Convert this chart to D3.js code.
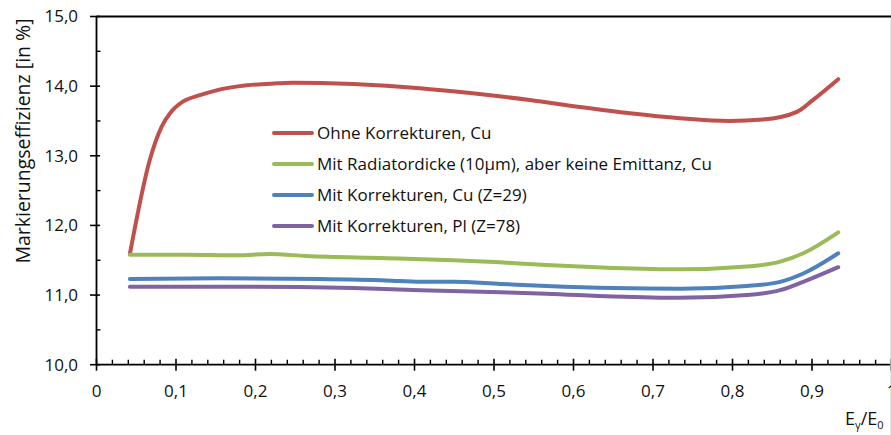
<!DOCTYPE html>
<html>
<head>
<meta charset="utf-8">
<script src="https://cdn.jsdelivr.net/npm/d3@7"></script>
<style>
  html, body { margin: 0; padding: 0; background: #fff; }
  svg { display: block; }
  text { font-family: "Open Sans", "Noto Sans", sans-serif; fill: #111; }
</style>
</head>
<body>
<svg id="chart" width="891" height="435"></svg>
<script>
// Energy ratio E_gamma / E_0 at which each curve was sampled
const redX    = [0.042, 0.067, 0.082, 0.0925, 0.109, 0.130, 0.151, 0.180, 0.227, 0.247, 0.323, 0.407, 0.470, 0.545, 0.608, 0.671, 0.734, 0.796, 0.838, 0.881, 0.901, 0.933];
const redY    = [11.59, 12.94, 13.42, 13.61, 13.78, 13.87, 13.94, 14.00, 14.04, 14.05, 14.03, 13.97, 13.90, 13.80, 13.70, 13.61, 13.54, 13.50, 13.52, 13.63, 13.80, 14.10];

const greenX  = [0.042, 0.114, 0.176, 0.218, 0.264, 0.365, 0.449, 0.508, 0.566, 0.650, 0.734, 0.818, 0.860, 0.889, 0.933];
const greenY  = [11.58, 11.58, 11.57, 11.59, 11.56, 11.53, 11.50, 11.47, 11.43, 11.39, 11.37, 11.41, 11.48, 11.60, 11.90];

const blueX   = [0.042, 0.155, 0.281, 0.365, 0.407, 0.449, 0.508, 0.566, 0.650, 0.734, 0.818, 0.860, 0.889, 0.933];
const blueY   = [11.23, 11.24, 11.23, 11.21, 11.19, 11.19, 11.16, 11.13, 11.10, 11.09, 11.13, 11.19, 11.31, 11.60];

const purpleX = [0.042, 0.197, 0.323, 0.407, 0.508, 0.566, 0.650, 0.734, 0.818, 0.860, 0.889, 0.933];
const purpleY = [11.12, 11.12, 11.10, 11.07, 11.04, 11.02, 10.98, 10.96, 11.00, 11.07, 11.19, 11.40];

const seriesNames  = ["Ohne Korrekturen, Cu",
                      "Mit Radiatordicke (10µm), aber keine Emittanz, Cu",
                      "Mit Korrekturen, Cu (Z=29)",
                      "Mit Korrekturen, Pl (Z=78)"];
const seriesColors = ["#C0504D", "#9BBB59", "#4F81BD", "#8064A2"];

const xTickValues = [0, 0.1, 0.2, 0.3, 0.4, 0.5, 0.6, 0.7, 0.8, 0.9, 1];
const xTickLabels = ["0", "0,1", "0,2", "0,3", "0,4", "0,5", "0,6", "0,7", "0,8", "0,9", "1"];
const yTickValues = [10, 11, 12, 13, 14, 15];
const yTickLabels = ["10,0", "11,0", "12,0", "13,0", "14,0", "15,0"];

const yAxisTitle = "Markierungseffizienz [in %]";

const series = [
  { x: redX,    y: redY },
  { x: greenX,  y: greenY },
  { x: blueX,   y: blueY },
  { x: purpleX, y: purpleY }
].map((s, i) => ({
  name: seriesNames[i],
  color: seriesColors[i],
  points: s.x.map((xv, j) => [xv, s.y[j]])
}));

const svg = d3.select("#chart");

const x = d3.scaleLinear().domain([0, 1]).range([96.5, 891.5]);
const y = d3.scaleLinear().domain([10, 15]).range([364.7, 16.5]);

const axisColor = "#000";
const g = svg.append("g");

// plot frame: left axis, bottom axis, top border
g.append("line").attr("x1", x(0)).attr("x2", x(0)).attr("y1", y(15)).attr("y2", y(10))
  .attr("stroke", axisColor).attr("stroke-width", 1.8);
g.append("line").attr("x1", x(0)).attr("x2", x(1)).attr("y1", y(10)).attr("y2", y(10))
  .attr("stroke", axisColor).attr("stroke-width", 1.8);
g.append("line").attr("x1", x(0)).attr("x2", x(1)).attr("y1", y(15)).attr("y2", y(15))
  .attr("stroke", axisColor).attr("stroke-width", 1.8);
// faint right edge
g.append("line").attr("x1", 890.5).attr("x2", 890.5).attr("y1", y(15) + 2).attr("y2", 435)
  .attr("stroke", "#e6e6e6").attr("stroke-width", 1);

// x ticks: majors cross the axis, minors every 0.02 point inward
const xMinor = d3.range(0, 101, 2).map(v => v / 100).filter(v => Math.round(v * 100) % 10 !== 0);
g.selectAll(".xminor").data(xMinor).join("line")
  .attr("x1", d => x(d)).attr("x2", d => x(d))
  .attr("y1", y(10)).attr("y2", y(10) - 5)
  .attr("stroke", axisColor).attr("stroke-width", 1.4);
g.selectAll(".xmajor").data(xTickValues).join("line")
  .attr("x1", d => x(d)).attr("x2", d => x(d))
  .attr("y1", y(10) - 6).attr("y2", y(10) + 6)
  .attr("stroke", axisColor).attr("stroke-width", 1.6);
g.selectAll(".xlabel").data(xTickValues).join("text")
  .attr("x", d => x(d)).attr("y", 397)
  .attr("text-anchor", "middle").attr("font-size", 17)
  .text((d, i) => xTickLabels[i]);

// y ticks
const yMinor = [10.5, 11.5, 12.5, 13.5, 14.5];
g.selectAll(".yminor").data(yMinor).join("line")
  .attr("x1", x(0)).attr("x2", x(0) + 4)
  .attr("y1", d => y(d)).attr("y2", d => y(d))
  .attr("stroke", axisColor).attr("stroke-width", 1.4);
g.selectAll(".ymajor").data(yTickValues).join("line")
  .attr("x1", x(0) - 6.5).attr("x2", x(0) + 3.5)
  .attr("y1", d => y(d)).attr("y2", d => y(d))
  .attr("stroke", axisColor).attr("stroke-width", 1.6);
g.selectAll(".ylabel").data(yTickValues).join("text")
  .attr("x", 78).attr("y", d => y(d))
  .attr("dy", "0.35em")
  .attr("text-anchor", "end").attr("font-size", 17)
  .text((d, i) => yTickLabels[i]);

// axis titles
svg.append("text")
  .attr("transform", "translate(30,141) rotate(-90)")
  .attr("text-anchor", "middle").attr("font-size", 19.5)
  .text(yAxisTitle);

const xt = svg.append("text").attr("x", 845).attr("y", 425).attr("font-size", 18);
xt.append("tspan").text("E");
xt.append("tspan").attr("font-size", 11).attr("dy", 4).text("γ");
xt.append("tspan").attr("dy", -4).text("/E");
xt.append("tspan").attr("font-size", 11).attr("dy", 4).text("0");

// data curves
const line = d3.line()
  .x(d => x(d[0]))
  .y(d => y(d[1]))
  .curve(d3.curveMonotoneX);

svg.append("g").selectAll("path").data(series).join("path")
  .attr("d", d => line(d.points))
  .attr("fill", "none")
  .attr("stroke", d => d.color)
  .attr("stroke-width", 4)
  .attr("stroke-linecap", "round")
  .attr("stroke-linejoin", "round");

// legend
const legend = svg.append("g").attr("transform", "translate(272,133)");
const rows = legend.selectAll("g").data(series).join("g")
  .attr("transform", (d, i) => `translate(0,${i * 31})`);
rows.append("line")
  .attr("x1", 2).attr("x2", 40).attr("y1", 0).attr("y2", 0)
  .attr("stroke", d => d.color).attr("stroke-width", 4)
  .attr("stroke-linecap", "round");
rows.append("text")
  .attr("x", 45).attr("y", 0).attr("dy", "0.35em")
  .attr("font-size", 17)
  .text(d => d.name);
</script>
</body>
</html>
